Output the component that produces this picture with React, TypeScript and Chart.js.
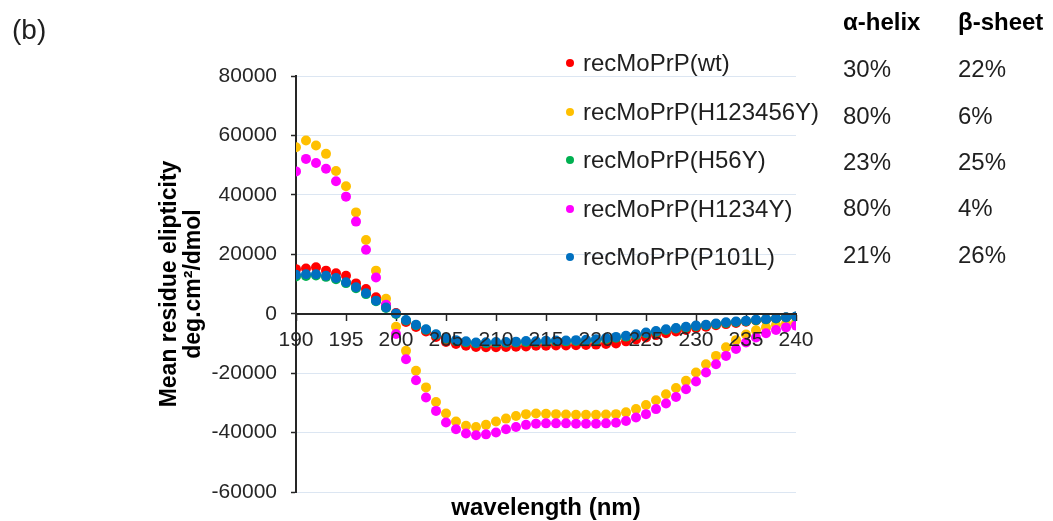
import React, { useEffect, useRef } from "react";
import { Chart, registerables } from "chart.js";

Chart.register(...registerables);

// ---------- data ----------
const wavelengths = [
  190, 191, 192, 193, 194, 195, 196, 197, 198, 199,
  200, 201, 202, 203, 204, 205, 206, 207, 208, 209,
  210, 211, 212, 213, 214, 215, 216, 217, 218, 219,
  220, 221, 222, 223, 224, 225, 226, 227, 228, 229,
  230, 231, 232, 233, 234, 235, 236, 237, 238, 239, 240,
];

const wt = [
  15000, 15200, 15600, 14500, 13600, 12800, 10200, 8300, 5500, 2900,
  200, -2800, -4500, -6000, -7800, -9500, -10200, -10800, -11200, -11300,
  -11300, -11200, -11100, -11000, -10800, -10800, -10700, -10700, -10600, -10500,
  -10400, -10200, -10000, -9300, -8700, -8000, -7200, -6600, -6000, -5500,
  -4800, -4400, -3900, -3500, -3100, -2700, -2300, -2000, -1700, -1300, -1000,
];

const h123456y = [
  56000, 58300, 56600, 53800, 48000, 42900, 34100, 24800, 14500, 5000,
  -4400, -12500, -19200, -24800, -29700, -33600, -36300, -37700, -38100, -37400,
  -36300, -35300, -34400, -33800, -33600, -33700, -33800, -33900, -34000, -34000,
  -34000, -33900, -33800, -33200, -32100, -30700, -29100, -27100, -25000, -22600,
  -19800, -17000, -14200, -11300, -8900, -7000, -5600, -4600, -3800, -3300, -3000,
];

const h56y = [
  12500, 12700, 12900, 12400, 11600, 10300, 8600, 6600, 4200, 1900,
  -100, -2300, -3900, -5400, -7100, -8400, -9200, -9600, -9900, -9900,
  -9800, -9800, -9700, -9500, -9500, -9400, -9300, -9300, -9200, -9100,
  -8900, -8500, -8100, -7700, -7200, -6600, -6100, -5500, -5000, -4600,
  -4200, -3900, -3500, -3100, -2800, -2500, -2200, -1900, -1600, -1300, -1000,
];

const h1234y = [
  47900, 52100, 50700, 48800, 44600, 39400, 31000, 21500, 12200, 3000,
  -6800, -15300, -22400, -28200, -32700, -36600, -38900, -40300, -40900, -40600,
  -40000, -38900, -38100, -37400, -37000, -36900, -36900, -36900, -37000, -37000,
  -37000, -36900, -36700, -36100, -34900, -33800, -32100, -30200, -28000, -25400,
  -22800, -19800, -17000, -14200, -11900, -9700, -8000, -6600, -5500, -4600, -4000,
];

const p101l = [
  13100, 13300, 13300, 12800, 12000, 10600, 8900, 6900, 4400, 2100,
  100, -2100, -3700, -5200, -6900, -8200, -8900, -9300, -9700, -9600,
  -9500, -9500, -9400, -9200, -9300, -9100, -9000, -9000, -8900, -8800,
  -8600, -8200, -7800, -7400, -6900, -6300, -5800, -5200, -4800, -4400,
  -4000, -3700, -3300, -2900, -2600, -2400, -2000, -1800, -1500, -1200, -900,
];

const seriesLabels = [
  "recMoPrP(wt)",
  "recMoPrP(H123456Y)",
  "recMoPrP(H56Y)",
  "recMoPrP(H1234Y)",
  "recMoPrP(P101L)",
];
const seriesValues = [wt, h123456y, h56y, h1234y, p101l];
const seriesColors = ["#ff0000", "#ffc000", "#00b050", "#ff00ff", "#0070c0"];

const alphaHelix = ["30%", "80%", "23%", "80%", "21%"];
const betaSheet = ["22%", "6%", "25%", "4%", "26%"];
const tableHeaders = ["α-helix", "β-sheet"];

const panelLabel = "(b)";
const yTitleLines = ["Mean residue elipticity", "deg.cm²/dmol"];
const xTitle = "wavelength (nm)";

const yMin = -60000;
const yMax = 80000;
const yStep = 20000;
const xMin = 190;
const xMax = 240;
const xStep = 5;

const FONT = '"Liberation Sans", Arial, sans-serif';

const overlayPlugin = {
  id: "overlay",
  afterDraw(chart: any) {
    const ctx = chart.ctx as CanvasRenderingContext2D;
    ctx.save();
    ctx.fillStyle = "#1f1f1f";

    // panel label
    ctx.font = `28px ${FONT}`;
    ctx.textAlign = "left";
    ctx.textBaseline = "middle";
    ctx.fillText(panelLabel, 12, 31);

    // y title
    const ca = chart.chartArea;
    const cy = (ca.top + ca.bottom) / 2;
    ctx.font = `bold 23px ${FONT}`;
    ctx.fillStyle = "#000";
    ctx.textAlign = "center";
    ctx.textBaseline = "middle";
    [170, 194].forEach((x, i) => {
      ctx.save();
      ctx.translate(x, cy);
      ctx.rotate(-Math.PI / 2);
      ctx.fillText(yTitleLines[i], 0, 0);
      ctx.restore();
    });

    // x title
    ctx.font = `bold 24px ${FONT}`;
    ctx.fillText(xTitle, (ca.left + ca.right) / 2, 508);

    // legend
    const legendY = [63, 112, 160, 209, 257];
    ctx.font = `24px ${FONT}`;
    ctx.textAlign = "left";
    seriesLabels.forEach((lab, i) => {
      ctx.fillStyle = seriesColors[i];
      ctx.beginPath();
      ctx.arc(570, legendY[i], 4, 0, Math.PI * 2);
      ctx.fill();
      ctx.fillStyle = "#1f1f1f";
      ctx.fillText(lab, 583, legendY[i] + 1);
    });

    // table
    const colX = [843, 958];
    ctx.font = `bold 24px ${FONT}`;
    ctx.fillStyle = "#000";
    ctx.fillText(tableHeaders[0], colX[0], 23);
    ctx.fillText(tableHeaders[1], colX[1], 23);
    const rowY = [70, 117, 163, 209, 256];
    ctx.font = `24px ${FONT}`;
    ctx.fillStyle = "#1f1f1f";
    alphaHelix.forEach((v, i) => ctx.fillText(v, colX[0], rowY[i]));
    betaSheet.forEach((v, i) => ctx.fillText(v, colX[1], rowY[i]));

    ctx.restore();
  },
};

export default function App() {
  const ref = useRef<HTMLCanvasElement | null>(null);

  useEffect(() => {
    if (!ref.current) return;
    const n = seriesLabels.length;
    const datasets = seriesLabels.map((label, s) => ({
      label,
      data: wavelengths.map((x, i) => ({ x, y: seriesValues[s][i] })),
      backgroundColor: seriesColors[s],
      borderColor: seriesColors[s],
      borderWidth: 0,
      pointRadius: 5,
      pointHoverRadius: 5,
      showLine: false,
      order: n - 1 - s,
    }));

    const chart = new Chart(ref.current, {
      type: "scatter",
      data: { datasets },
      options: {
        responsive: false,
        maintainAspectRatio: false,
        animation: false,
        events: [],
        layout: { padding: { left: 0, top: 76, right: 257, bottom: 29 } },
        plugins: {
          legend: { display: false },
          tooltip: { enabled: false },
          title: { display: false },
        },
        scales: {
          x: {
            type: "linear",
            position: { y: 0 } as any,
            min: xMin,
            max: xMax,
            ticks: {
              stepSize: xStep,
              color: "#262626",
              font: { family: FONT, size: 21 },
              padding: 8,
              maxRotation: 0,
              autoSkip: false,
              z: 1,
              callback: (v: any) => String(v),
            },
            grid: {
              drawOnChartArea: false,
              drawTicks: true,
              tickLength: 6,
              tickColor: "#262626",
              tickWidth: 1.5,
            },
            border: { color: "#262626", width: 2, z: 1 },
          },
          y: {
            type: "linear",
            position: "left",
            min: yMin,
            max: yMax,
            afterFit: (scale: any) => {
              scale.width = 296;
            },
            ticks: {
              stepSize: yStep,
              color: "#262626",
              font: { family: FONT, size: 21 },
              padding: 14,
              callback: (v: any) => String(v),
            },
            grid: {
              color: "#dce6f2",
              lineWidth: 1,
              drawTicks: true,
              tickLength: 5,
              tickColor: "#262626",
              tickWidth: 1.5,
            },
            border: { color: "#262626", width: 2 },
          },
        },
      },
      plugins: [overlayPlugin],
    });
    return () => chart.destroy();
  }, []);

  return (
    <div style={{ position: "fixed", left: 0, top: 0, width: 1053, height: 521, background: "#fff" }}>
      <canvas ref={ref} width={1053} height={521} style={{ display: "block", width: 1053, height: 521 }} />
    </div>
  );
}
